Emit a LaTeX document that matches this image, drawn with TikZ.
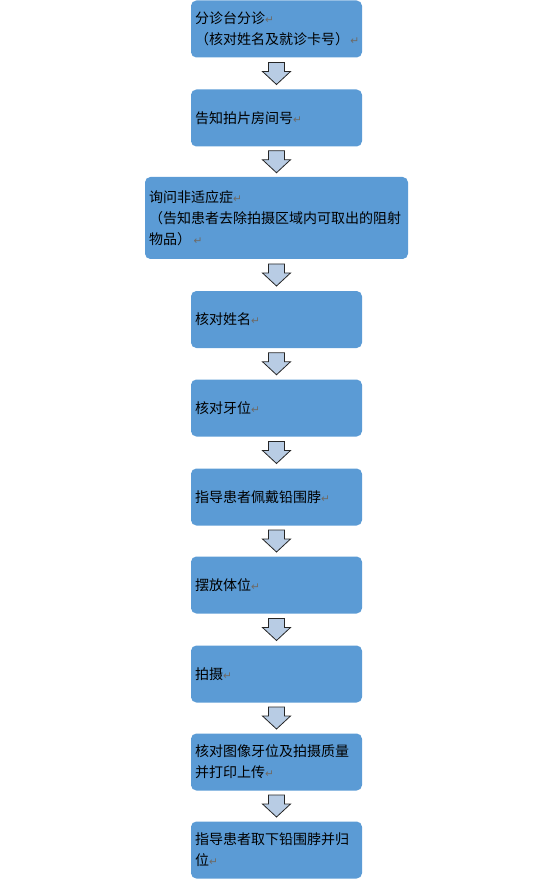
\documentclass[tikz,border=0pt]{standalone}
\usepackage{fontspec}
\usepackage{tikz}
\usetikzlibrary{calc}
\newfontfamily\cjk{Noto Sans CJK SC}
\newfontfamily\symfont{DejaVu Sans}
\definecolor{stepblue}{HTML}{5B9BD5}
\definecolor{arrowblue}{HTML}{B8CCE4}
\definecolor{markgray}{HTML}{6E6A66}
\newcommand\parmark{{\symfont\color{markgray}\fontsize{8}{8}\selectfont ↵}}
\tikzset{
    every node/.style={font=\cjk\fontsize{10.5}{15.6}\selectfont},
    stepbox/.style={rectangle,rounded corners=4pt,fill=stepblue,inner xsep=3pt,inner ysep=2pt,
        text width=122.25pt,minimum height=42.75pt,align=left},
    widebox/.style={stepbox,text width=191.25pt,minimum height=61.5pt},
    flowarrow/.style={draw=black!85,fill=arrowblue,line width=0.6pt,line join=miter}
}
\newcommand\downflow[2]{%
    \draw[flowarrow] ($(#1.south)!0.5!(#2.north)$) ++(-8,-11) -- ++(16,0) -- ++(0,9) -- ++(6,0)
        -- ++(-14,13) -- ++(-14,-13) -- ++(6,0) -- cycle;
}
\begin{document}
\begin{tikzpicture}[x=0.75pt,y=-0.75pt]
\useasboundingbox (0,0) rectangle (554,880);
% steps
\foreach \n/\y/\s/\txt in {
    1/29/stepbox/{分诊台分诊\parmark\\\mbox{（核对姓名及就诊卡号）\kern1pt\parmark}},
    2/118/stepbox/{告知拍片房间号\parmark},
    3/218/widebox/{询问非适应症\parmark\\（告知患者去除拍摄区域内可取出的阻射\\\mbox{物品）\kern2pt\parmark}},
    4/319.5/stepbox/{核对姓名\parmark},
    5/408/stepbox/{核对牙位\parmark},
    6/497/stepbox/{指导患者佩戴铅围脖\parmark},
    7/585/stepbox/{摆放体位\parmark},
    8/674/stepbox/{拍摄\parmark},
    9/762/stepbox/{核对图像牙位及拍摄质量\\并打印上传\parmark},
    10/850/stepbox/{指导患者取下铅围脖并归\\位\parmark}}{
    \node[\s] (b\n) at (276.5,\y) {\txt};
}
% arrows between steps
\foreach \a/\b in {1/2,2/3,3/4,4/5,5/6,6/7,7/8,8/9,9/10}{
    \downflow{b\a}{b\b}
}
\end{tikzpicture}
\end{document}
